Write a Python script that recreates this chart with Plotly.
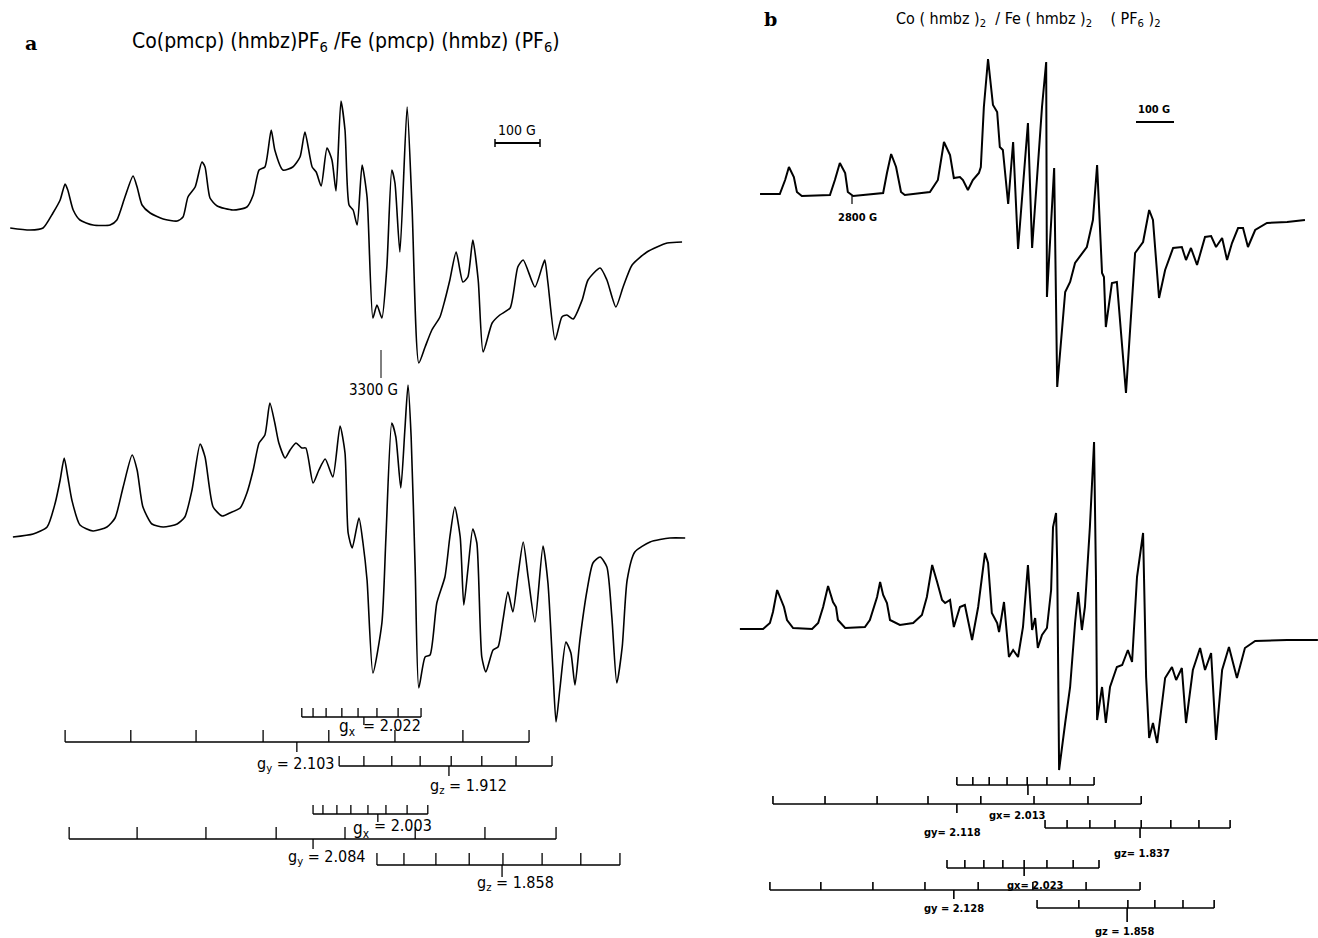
import plotly.graph_objects as go

# ---------------- data (field in gauss, signal in arbitrary units) ----------------
A1_FIELD = [2476, 2520, 2549, 2571, 2587, 2598, 2604, 2616, 2631, 2660, 2698, 2713, 2731, 2749, 2758,
            2769, 2787, 2816, 2847, 2860, 2871, 2887, 2902, 2909, 2920, 2936, 2971, 3002, 3016, 3029,
            3042, 3056, 3064, 3082, 3104, 3120, 3131, 3147, 3156, 3167, 3180, 3191, 3200, 3211, 3220,
            3229, 3238, 3247, 3258, 3269, 3282, 3291, 3302, 3313, 3324, 3331, 3342, 3358, 3369, 3384,
            3398, 3413, 3431, 3442, 3453, 3467, 3482, 3493, 3504, 3516, 3527, 3547, 3564, 3587, 3604,
            3616, 3642, 3658, 3664, 3671, 3687, 3702, 3713, 3727, 3747, 3760, 3787, 3802, 3822, 3838,
            3858, 3891, 3936, 3969]
A1_SIGNAL = [0, -2, 0, 15, 28, 44, 38, 18, 8, 3, 3, 8, 31, 52, 41,
             23, 15, 9, 7, 11, 31, 41, 66, 61, 30, 22, 18, 21, 33, 58,
             61, 98, 78, 58, 61, 71, 96, 61, 56, 42, 80, 68, 37, 127, 98,
             23, 18, 3, 63, 31, -90, -77, -90, -39, 58, 45, -24, 121, 21, -135,
             -119, -102, -89, -72, -52, -24, -54, -49, -12, -52, -124, -95, -87, -80, -39,
             -32, -59, -39, -32, -55, -112, -89, -87, -91, -72, -52, -40, -52, -79, -59,
             -37, -24, -15, -14]

A2_FIELD = [2482, 2527, 2558, 2576, 2587, 2596, 2604, 2613, 2631, 2660, 2691, 2709, 2727, 2747, 2758,
            2771, 2791, 2816, 2847, 2864, 2880, 2898, 2909, 2927, 2947, 2964, 2987, 3002, 3016, 3029,
            3042, 3053, 3064, 3073, 3087, 3098, 3111, 3124, 3133, 3149, 3162, 3176, 3193, 3209, 3220,
            3227, 3236, 3251, 3260, 3269, 3282, 3302, 3311, 3324, 3333, 3344, 3353, 3360, 3367, 3376,
            3384, 3398, 3409, 3424, 3442, 3453, 3464, 3476, 3484, 3493, 3504, 3513, 3524, 3533, 3549,
            3560, 3571, 3582, 3593, 3604, 3616, 3627, 3642, 3660, 3671, 3682, 3689, 3698, 3711, 3722,
            3731, 3742, 3758, 3771, 3787, 3802, 3813, 3824, 3836, 3847, 3864, 3898, 3942, 3976]
A2_SIGNAL = [0, 3, 10, 34, 57, 79, 60, 37, 12, 6, 10, 19, 50, 82, 67,
             30, 13, 10, 13, 20, 47, 93, 80, 30, 21, 24, 29, 44, 67, 94,
             102, 134, 114, 94, 79, 87, 94, 89, 89, 54, 67, 78, 60, 111, 84,
             4, -11, 19, -6, -43, -136, -86, 0, 114, 100, 49, 107, 152, 100, -33,
             -151, -120, -118, -66, -40, 0, 30, 0, -68, -33, 8, -6, -120, -135, -113,
             -110, -83, -55, -75, -40, -5, -40, -85, -9, -46, -133, -185, -150, -105, -116,
             -148, -103, -53, -26, -20, -30, -80, -146, -110, -43, -15, -5, -1, -1]

B1_FIELD = [2558, 2610, 2624, 2634, 2647, 2655, 2668, 2742, 2755, 2768, 2782, 2789, 2803, 2882, 2892,
            2903, 2916, 2929, 2939, 3005, 3026, 3042, 3058, 3068, 3084, 3092, 3105, 3118, 3134, 3139,
            3147, 3158, 3171, 3182, 3189, 3197, 3211, 3224, 3237, 3263, 3274, 3300, 3311, 3313, 3332,
            3340, 3361, 3374, 3387, 3418, 3434, 3445, 3458, 3463, 3468, 3484, 3497, 3521, 3545, 3566,
            3582, 3592, 3608, 3624, 3645, 3668, 3679, 3692, 3708, 3729, 3745, 3758, 3774, 3787, 3800,
            3816, 3829, 3842, 3861, 3892, 3945, 3992]
B1_SIGNAL = [0, 0, 14, 27, 17, 2, -2, -1, 14, 31, 21, 2, -2, 1, 21,
             40, 27, 2, -1, 2, 14, 52, 39, 16, 17, 14, 4, 14, 21, 27,
             87, 135, 89, 82, 47, 44, -10, 52, -55, 71, -54, 87, 132, -103, 26,
             -193, -98, -88, -69, -53, -26, 29, -79, -83, -133, -89, -88, -199, -59, -48,
             -16, -26, -104, -76, -54, -53, -66, -54, -71, -43, -42, -53, -44, -66, -49,
             -34, -34, -53, -36, -29, -28, -26]

B2_FIELD = [2505, 2566, 2584, 2592, 2603, 2616, 2621, 2629, 2645, 2695, 2711, 2724, 2737, 2750, 2758,
            2763, 2782, 2834, 2847, 2866, 2874, 2882, 2892, 2900, 2926, 2961, 2984, 2997, 3011, 3024,
            3037, 3045, 3058, 3068, 3084, 3097, 3116, 3132, 3150, 3158, 3168, 3182, 3187, 3200, 3213,
            3224, 3237, 3250, 3263, 3274, 3282, 3289, 3300, 3313, 3324, 3329, 3337, 3340, 3345, 3361,
            3374, 3387, 3395, 3405, 3413, 3426, 3437, 3442, 3445, 3458, 3468, 3479, 3497, 3511, 3526,
            3537, 3550, 3566, 3574, 3582, 3592, 3603, 3624, 3642, 3653, 3668, 3679, 3697, 3716, 3729,
            3745, 3758, 3774, 3792, 3813, 3834, 3861, 3945, 4026]
B2_SIGNAL = [0, 0, 6, 17, 39, 27, 22, 9, 1, 0, 6, 22, 43, 27, 22,
             9, 1, 2, 9, 32, 47, 34, 26, 9, 4, 6, 14, 32, 64, 47,
             29, 26, 29, 2, 22, 24, -11, 22, 76, 66, 16, 6, -3, 27, -28,
             -21, -28, 2, 64, -1, 11, -19, -6, 1, 39, 102, 116, 66, -141, -94,
             -58, 6, 37, -1, 22, 102, 187, 52, -91, -58, -94, -58, -38, -36, -21,
             -33, 52, 96, -48, -109, -94, -114, -49, -38, -51, -39, -94, -41, -19, -41,
             -24, -111, -41, -18, -49, -19, -12, -11, -11]

# hyperfine stick diagrams (line positions in gauss, g-value marker position)
A_GX1_LINES = [3124, 3149, 3178, 3213, 3249, 3291, 3338, 3389]
A_GY1_LINES = [2598, 2744, 2889, 3038, 3184, 3331, 3482, 3629]
A_GZ1_LINES = [3207, 3262, 3324, 3387, 3456, 3524, 3600, 3680]
A_GX2_LINES = [3149, 3171, 3202, 3233, 3271, 3311, 3358, 3404]
A_GY2_LINES = [2607, 2758, 2911, 3067, 3220, 3376, 3531, 3689]
A_GZ2_LINES = [3291, 3351, 3422, 3496, 3571, 3658, 3744, 3831]
A_CENTERS = [3262, 3113, 3451, 3293, 3149, 3569]
A_GVALUES = ["2.022", "2.103", "1.912", "2.003", "2.084", "1.858"]

B_GX1_LINES = [3076, 3118, 3161, 3208, 3261, 3313, 3374, 3437]
B_GY1_LINES = [2592, 2729, 2866, 3000, 3139, 3279, 3421, 3561]
B_GZ1_LINES = [3308, 3366, 3426, 3492, 3561, 3639, 3713, 3795]
B_GX2_LINES = [3050, 3097, 3147, 3197, 3253, 3313, 3382, 3450]
B_GY2_LINES = [2584, 2718, 2855, 2992, 3132, 3276, 3416, 3558]
B_GZ2_LINES = [3287, 3397, 3526, 3597, 3671, 3753]
B_CENTERS = [3263, 3076, 3558, 3253, 3068, 3524]
B_GVALUES = ["2.013", "2.118", "1.837", "2.023", "2.128", "1.858"]

A_MARK_FIELD = 3300
B_MARK_FIELD = 2800
SCALE_BAR_G = 100

# ---------------- layout constants ----------------
W, H = 1318, 938
SPLIT = 690
A_REF_PX, A_PX_PER_G = 381, 0.45
B_REF_PX, B_PX_PER_G = 852, 0.38


def yv(py):
    return H - py


def a_field(px):
    return A_MARK_FIELD + (px - A_REF_PX) / A_PX_PER_G


def b_field(px):
    return B_MARK_FIELD + (px - B_REF_PX) / B_PX_PER_G


fig = go.Figure()


def spectrum(field, signal, base_px, axis, width, shape):
    fig.add_trace(go.Scatter(
        x=field, y=[yv(base_px) + s for s in signal], mode="lines",
        line=dict(color="black", width=width, shape=shape, smoothing=0.6),
        xaxis=axis[0], yaxis=axis[1], hoverinfo="skip", showlegend=False))


def stick_row(lines, center, bar_px, up, down, axis, width=1.3):
    y0 = yv(bar_px)
    xs, ys = [lines[0], lines[-1], None], [y0, y0, None]
    for f in lines:
        xs += [f, f, None]
        ys += [y0, y0 + up, None]
    xs += [center, center, None]
    ys += [y0, y0 - down, None]
    fig.add_trace(go.Scatter(x=xs, y=ys, mode="lines",
                             line=dict(color="black", width=width),
                             xaxis=axis[0], yaxis=axis[1], hoverinfo="skip", showlegend=False))


def seg(x0, x1, py0, py1, axis, width=1.3):
    fig.add_trace(go.Scatter(x=[x0, x1], y=[yv(py0), yv(py1)], mode="lines",
                             line=dict(color="black", width=width),
                             xaxis=axis[0], yaxis=axis[1], hoverinfo="skip", showlegend=False))


AX_A = ("x", "y")
AX_B = ("x2", "y2")

# spectra
spectrum(A1_FIELD, A1_SIGNAL, 228, AX_A, 1.6, "spline")
spectrum(A2_FIELD, A2_SIGNAL, 537, AX_A, 1.6, "spline")
spectrum(B1_FIELD, B1_SIGNAL, 194, AX_B, 2.0, "linear")
spectrum(B2_FIELD, B2_SIGNAL, 629, AX_B, 2.0, "linear")

# stick diagrams panel a
stick_row(A_GX1_LINES, A_CENTERS[0], 717, 9, 8, AX_A)
stick_row(A_GY1_LINES, A_CENTERS[1], 742, 12, 10, AX_A)
stick_row(A_GZ1_LINES, A_CENTERS[2], 766, 10, 10, AX_A)
stick_row(A_GX2_LINES, A_CENTERS[3], 814, 9, 8, AX_A)
stick_row(A_GY2_LINES, A_CENTERS[4], 839, 12, 10, AX_A)
stick_row(A_GZ2_LINES, A_CENTERS[5], 865, 12, 12, AX_A)

# stick diagrams panel b
stick_row(B_GX1_LINES, B_CENTERS[0], 785, 8, 10, AX_B, 1.6)
stick_row(B_GY1_LINES, B_CENTERS[1], 804, 8, 9, AX_B, 1.6)
stick_row(B_GZ1_LINES, B_CENTERS[2], 828, 8, 10, AX_B, 1.6)
stick_row(B_GX2_LINES, B_CENTERS[3], 868, 8, 8, AX_B, 1.6)
stick_row(B_GY2_LINES, B_CENTERS[4], 890, 8, 9, AX_B, 1.6)
stick_row(B_GZ2_LINES, B_CENTERS[5], 908, 8, 14, AX_B, 1.6)

# field markers and 100 G scale bars
seg(A_MARK_FIELD, A_MARK_FIELD, 350, 378, AX_A, 1.0)
seg(B_MARK_FIELD, B_MARK_FIELD, 196, 204, AX_B, 1.2)
a0 = a_field(495)
seg(a0, a0 + SCALE_BAR_G, 143, 143, AX_A, 2.0)
seg(a0, a0, 139, 147, AX_A, 1.5)
seg(a0 + SCALE_BAR_G, a0 + SCALE_BAR_G, 139, 147, AX_A, 1.5)
b0 = b_field(1136)
seg(b0, b0 + SCALE_BAR_G, 122, 122, AX_B, 2.0)

# ---------------- text ----------------
COND = "DejaVu Sans Condensed, Liberation Sans Narrow, DejaVu Sans, sans-serif"
SERIF = "DejaVu Serif, Liberation Serif, serif"
anns = []


def txt(t, px, py, size, family=COND, bold=False, xanchor="center"):
    if bold:
        t = "<b>" + t + "</b>"
    anns.append(dict(text=t, x=px / W, y=1 - py / H, xref="paper", yref="paper",
                     xanchor=xanchor, yanchor="middle", showarrow=False,
                     font=dict(family=family, size=size, color="black")))


txt("a", 31, 43, 19, SERIF, True)
txt("Co(pmcp) (hmbz)PF<sub>6</sub> /Fe (pmcp) (hmbz) (PF<sub>6</sub>)", 346, 42, 21)
txt("b", 770, 19, 19, SERIF, True)
txt("Co ( hmbz )<sub>2</sub>  / Fe ( hmbz )<sub>2</sub>    ( PF<sub>6</sub> )<sub>2</sub>", 1028, 19, 16)

txt("100 G", 517, 130, 14)
txt("3300 G", 373, 390, 15)
txt("100 G", 1154, 110, 11, bold=True)
txt("2800 G", 857, 218, 11, bold=True)

# g-value labels, panel a
txt("g<sub>x</sub>", 347, 727, 17)
txt("= " + A_GVALUES[0], 392, 725, 16)
txt("g<sub>y</sub> = " + A_GVALUES[1], 296, 764, 16)
txt("g<sub>z</sub> = " + A_GVALUES[2], 468, 786, 16)
txt("g<sub>x</sub>", 361, 829, 17)
txt("= " + A_GVALUES[3], 403, 825, 16)
txt("g<sub>y</sub> = " + A_GVALUES[4], 327, 857, 16)
txt("g<sub>z</sub> = " + A_GVALUES[5], 515, 883, 16)

# g-value labels, panel b
txt("gx= " + B_GVALUES[0], 1017, 815, 11, bold=True)
txt("gy= " + B_GVALUES[1], 952, 832, 11, bold=True)
txt("gz= " + B_GVALUES[2], 1142, 853, 11, bold=True)
txt("gx= " + B_GVALUES[3], 1035, 885, 11, bold=True)
txt("gy = " + B_GVALUES[4], 954, 908, 11, bold=True)
txt("gz = " + B_GVALUES[5], 1124, 931, 11, bold=True)

hidden = dict(visible=False, showgrid=False, zeroline=False, fixedrange=True)
fig.update_layout(
    width=W, height=H, margin=dict(l=0, r=0, t=0, b=0),
    paper_bgcolor="white", plot_bgcolor="white", showlegend=False,
    xaxis=dict(domain=[0, SPLIT / W], range=[a_field(0), a_field(SPLIT)], **hidden),
    xaxis2=dict(domain=[SPLIT / W, 1], range=[b_field(SPLIT), b_field(W)], **hidden),
    yaxis=dict(domain=[0, 1], range=[0, H], anchor="x", **hidden),
    yaxis2=dict(domain=[0, 1], range=[0, H], anchor="x2", **hidden),
    annotations=anns,
)

fig.write_html("out.html", config={"displayModeBar": False},
               post_script="document.body.style.margin='0';document.body.style.overflow='hidden';")
